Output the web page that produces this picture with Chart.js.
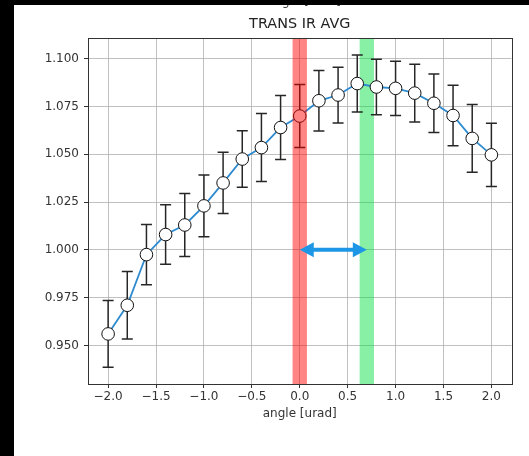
<!DOCTYPE html>
<html><head><meta charset="utf-8">
<script src="https://cdn.jsdelivr.net/npm/chart.js@4/dist/chart.umd.min.js"></script>
<style>html,body{margin:0;padding:0;background:#000;overflow:hidden}#wrap{width:529px;height:456px;position:relative}</style>
</head><body><div id="wrap"><canvas id="c" width="529" height="456"></canvas></div>
<script>
const angles = [-2.0,-1.8,-1.6,-1.4,-1.2,-1.0,-0.8,-0.6,-0.4,-0.2,0.0,0.2,0.4,0.6,0.8,1.0,1.2,1.4,1.6,1.8,2.0];
const values = [0.956,0.971,0.9975,1.008,1.013,1.023,1.035,1.0475,1.0535,1.064,1.070,1.078,1.081,1.087,1.0852,1.0845,1.082,1.0767,1.0703,1.0583,1.0497];
const errors = [0.0175,0.0177,0.0158,0.0156,0.0165,0.0162,0.016,0.0148,0.0178,0.0167,0.0165,0.0158,0.0146,0.0149,0.0145,0.0142,0.0151,0.0153,0.0158,0.0177,0.0165];
const xTicks = [-2.0,-1.5,-1.0,-0.5,0.0,0.5,1.0,1.5,2.0];
const yTicks = [0.950,0.975,1.000,1.025,1.050,1.075,1.100];
const redSpan = [-0.075, 0.075];
const greenSpan = [0.625, 0.775];
const arrowX = [0.0, 0.7];
const arrowY = 1.0;
const xRange = [-2.21, 2.21];
const yRange = [0.9298, 1.1108];

const FONT = "'DejaVu Sans', sans-serif";

const decor = {
  id: 'decor',
  beforeDraw(chart) {
    const ctx = chart.ctx;
    ctx.save();
    ctx.fillStyle = '#000';
    ctx.fillRect(0, 0, chart.width, chart.height);
    ctx.fillStyle = '#fff';
    ctx.fillRect(14, 5, chart.width - 14, chart.height - 5);
    // clipped x-label of a previous figure at the very top (only descenders visible)
    ctx.beginPath(); ctx.rect(14, 5, chart.width - 14, 4); ctx.clip();
    ctx.fillStyle = '#444';
    ctx.font = '12px ' + FONT;
    ctx.textAlign = 'center';
    ctx.textBaseline = 'alphabetic';
    ctx.fillText('angle [urad]', 304, 4.5);
    ctx.restore();
  },
  beforeDatasetsDraw(chart) {
    const ctx = chart.ctx, xs = chart.scales.x, ys = chart.scales.y, a = chart.chartArea;
    ctx.save();
    ctx.beginPath(); ctx.rect(a.left, a.top, a.right - a.left, a.bottom - a.top); ctx.clip();
    ctx.fillStyle = 'rgba(0,224,64,0.47)';
    const g0 = xs.getPixelForValue(greenSpan[0]), g1 = xs.getPixelForValue(greenSpan[1]);
    ctx.fillRect(g0, a.top, g1 - g0, a.bottom - a.top);
    ctx.strokeStyle = '#262626';
    ctx.lineWidth = 1.5;
    angles.forEach((x, i) => {
      const px = xs.getPixelForValue(x);
      const pt = ys.getPixelForValue(values[i] + errors[i]);
      const pb = ys.getPixelForValue(values[i] - errors[i]);
      ctx.beginPath();
      ctx.moveTo(px, pt); ctx.lineTo(px, pb);
      ctx.moveTo(px - 5.5, pt); ctx.lineTo(px + 5.5, pt);
      ctx.moveTo(px - 5.5, pb); ctx.lineTo(px + 5.5, pb);
      ctx.stroke();
    });
    ctx.restore();
  },
  afterDatasetsDraw(chart) {
    const ctx = chart.ctx, xs = chart.scales.x, ys = chart.scales.y, a = chart.chartArea;
    ctx.save();
    ctx.fillStyle = 'rgba(255,0,0,0.48)';
    const r0 = xs.getPixelForValue(redSpan[0]), r1 = xs.getPixelForValue(redSpan[1]);
    ctx.fillRect(r0, a.top, r1 - r0, a.bottom - a.top);
    // arrow
    const x0 = xs.getPixelForValue(arrowX[0]), x1 = xs.getPixelForValue(arrowX[1]);
    const y = ys.getPixelForValue(arrowY);
    const hl = 14, hw = 7.5;
    ctx.fillStyle = '#1e96e6';
    ctx.strokeStyle = '#1e96e6';
    ctx.lineWidth = 4;
    ctx.beginPath(); ctx.moveTo(x0 + hl - 1, y); ctx.lineTo(x1 - hl + 1, y); ctx.stroke();
    ctx.beginPath(); ctx.moveTo(x0, y); ctx.lineTo(x0 + hl, y - hw); ctx.lineTo(x0 + hl, y + hw); ctx.closePath(); ctx.fill();
    ctx.beginPath(); ctx.moveTo(x1, y); ctx.lineTo(x1 - hl, y - hw); ctx.lineTo(x1 - hl, y + hw); ctx.closePath(); ctx.fill();
    // frame
    ctx.strokeStyle = '#333';
    ctx.lineWidth = 1;
    ctx.strokeRect(Math.round(a.left) + 0.5, Math.round(a.top) + 0.5, Math.round(a.right - a.left), Math.round(a.bottom - a.top));
    ctx.restore();
  }
};

new Chart(document.getElementById('c'), {
  type: 'line',
  data: {
    datasets: [{
      data: angles.map((x, i) => ({x: x, y: values[i]})),
      borderColor: '#2e8bd0',
      borderWidth: 1.8,
      pointRadius: 6.3,
      pointBackgroundColor: '#ffffff',
      pointBorderColor: '#111',
      pointBorderWidth: 1,
      tension: 0,
      clip: false
    }]
  },
  options: {
    responsive: false,
    animation: false,
    devicePixelRatio: 1,
    layout: {padding: {left: 14, right: 17.5, top: 5, bottom: 0}},
    plugins: {
      legend: {display: false},
      tooltip: {enabled: false},
      title: {
        display: true, text: 'TRANS IR AVG', fullSize: false,
        color: '#222', font: {size: 14.4, family: FONT, weight: 'normal'},
        padding: {top: 10.4, bottom: 5.4}
      }
    },
    scales: {
      x: {
        type: 'linear', min: xRange[0], max: xRange[1],
        afterBuildTicks: s => { s.ticks = xTicks.map(v => ({value: v})); },
        afterFit: s => { s.height = 72; },
        ticks: {
          color: '#333', font: {size: 12, family: FONT}, padding: 2, maxRotation: 0, autoSkip: false,
          callback: v => (v < 0 ? '\u2212' : '') + Math.abs(v).toFixed(1)
        },
        grid: {color: '#b0b0b0', lineWidth: 0.8, tickLength: 4, tickColor: '#333', tickWidth: 1},
        border: {display: false},
        title: {display: true, text: 'angle [urad]', color: '#333', font: {size: 12, family: FONT}, padding: {top: 0, bottom: 35}}
      },
      y: {
        type: 'linear', min: yRange[0], max: yRange[1],
        afterBuildTicks: s => { s.ticks = yTicks.map(v => ({value: v})); },
        afterFit: s => { s.width = 74; },
        ticks: {
          color: '#333', font: {size: 12, family: FONT}, padding: 5, autoSkip: false,
          callback: v => v.toFixed(3)
        },
        grid: {color: '#b0b0b0', lineWidth: 0.8, tickLength: 4, tickColor: '#333', tickWidth: 1},
        border: {display: false}
      }
    }
  },
  plugins: [decor]
});
</script>
</body></html>
